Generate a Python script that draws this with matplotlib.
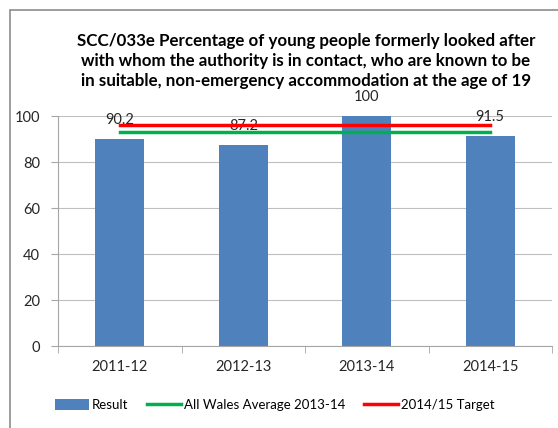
import numpy as np
import matplotlib
matplotlib.use("Agg")
import matplotlib.pyplot as plt
from matplotlib.patches import Rectangle

# chart data
years = ["2011-12", "2012-13", "2013-14", "2014-15"]
result = [90.2, 87.2, 100, 91.5]
wales_avg = [93, 93, 93, 93]
target = [96, 96, 96, 96]

plt.rcParams['font.family'] = ['Lato', 'DejaVu Sans']

fig = plt.figure(figsize=(5.58, 4.28), dpi=100)
ax = fig.add_axes([58 / 558, 1 - 346 / 428, 494 / 558, 230 / 428])

# outer chart frame (cropped at right and bottom)
fig.patches.append(Rectangle((10 / 558, -0.1), 1.2, 1 - 10 / 428 + 0.1,
                             transform=fig.transFigure, fill=False,
                             edgecolor="#8c8c8c", linewidth=1.2))

x = np.arange(len(years))
bars = ax.bar(x, result, width=0.4, color="#4f81bd", label="Result", zorder=2)
avg_line, = ax.plot(x, wales_avg, color="#00b050", linewidth=2.5,
                    label="All Wales Average 2013-14", zorder=3)
tgt_line, = ax.plot(x, target, color="#ff0000", linewidth=2.5,
                    label="2014/15 Target", zorder=3)

# value labels sit above the bars, the lines are drawn over them
for xi, v in zip(x, result):
    ax.annotate(f"{v:g}", (xi, v), xytext=(0, 19), textcoords="offset pixels",
                ha="center", va="center", fontsize=10.5, color="#262626",
                zorder=1, annotation_clip=False)

ax.set_xlim(-0.5, 3.5)
ax.set_ylim(0, 100)
ax.set_yticks(range(0, 101, 20))
ax.set_xticks(x)
ax.set_xticklabels(years)
ax.set_xticks(np.arange(-0.5, 3.6, 1), minor=True)
ax.tick_params(axis="x", which="major", length=0, pad=10)
ax.tick_params(axis="x", which="minor", length=5, color="#a6a6a6")
ax.tick_params(axis="y", length=5, color="#a6a6a6", pad=8)
ax.tick_params(labelsize=10.5, labelcolor="#262626")
ax.grid(axis="y", color="#bfbfbf", linewidth=0.8, zorder=0)
ax.set_axisbelow(True)
for s in ["top", "right"]:
    ax.spines[s].set_visible(False)
for s in ["left", "bottom"]:
    ax.spines[s].set_color("#a6a6a6")

fig.text(0.548, 1 - 61 / 428,
         "SCC/033e Percentage of young people formerly looked after\n"
         "with whom the authority is in contact, who are known to be\n"
         "in suitable, non-emergency accommodation at the age of 19",
         ha="center", va="center", fontsize=12.2, fontweight="bold",
         linespacing=1.32, color="#000000")

fig.legend(handles=[bars, avg_line, tgt_line], loc="center",
           bbox_to_anchor=(0.492, 1 - 405 / 428), ncol=3, frameon=False,
           fontsize=9.5, handlelength=2.6, handleheight=0.9,
           columnspacing=1.4, handletextpad=0.2)

fig.savefig("out.png", dpi=100)
